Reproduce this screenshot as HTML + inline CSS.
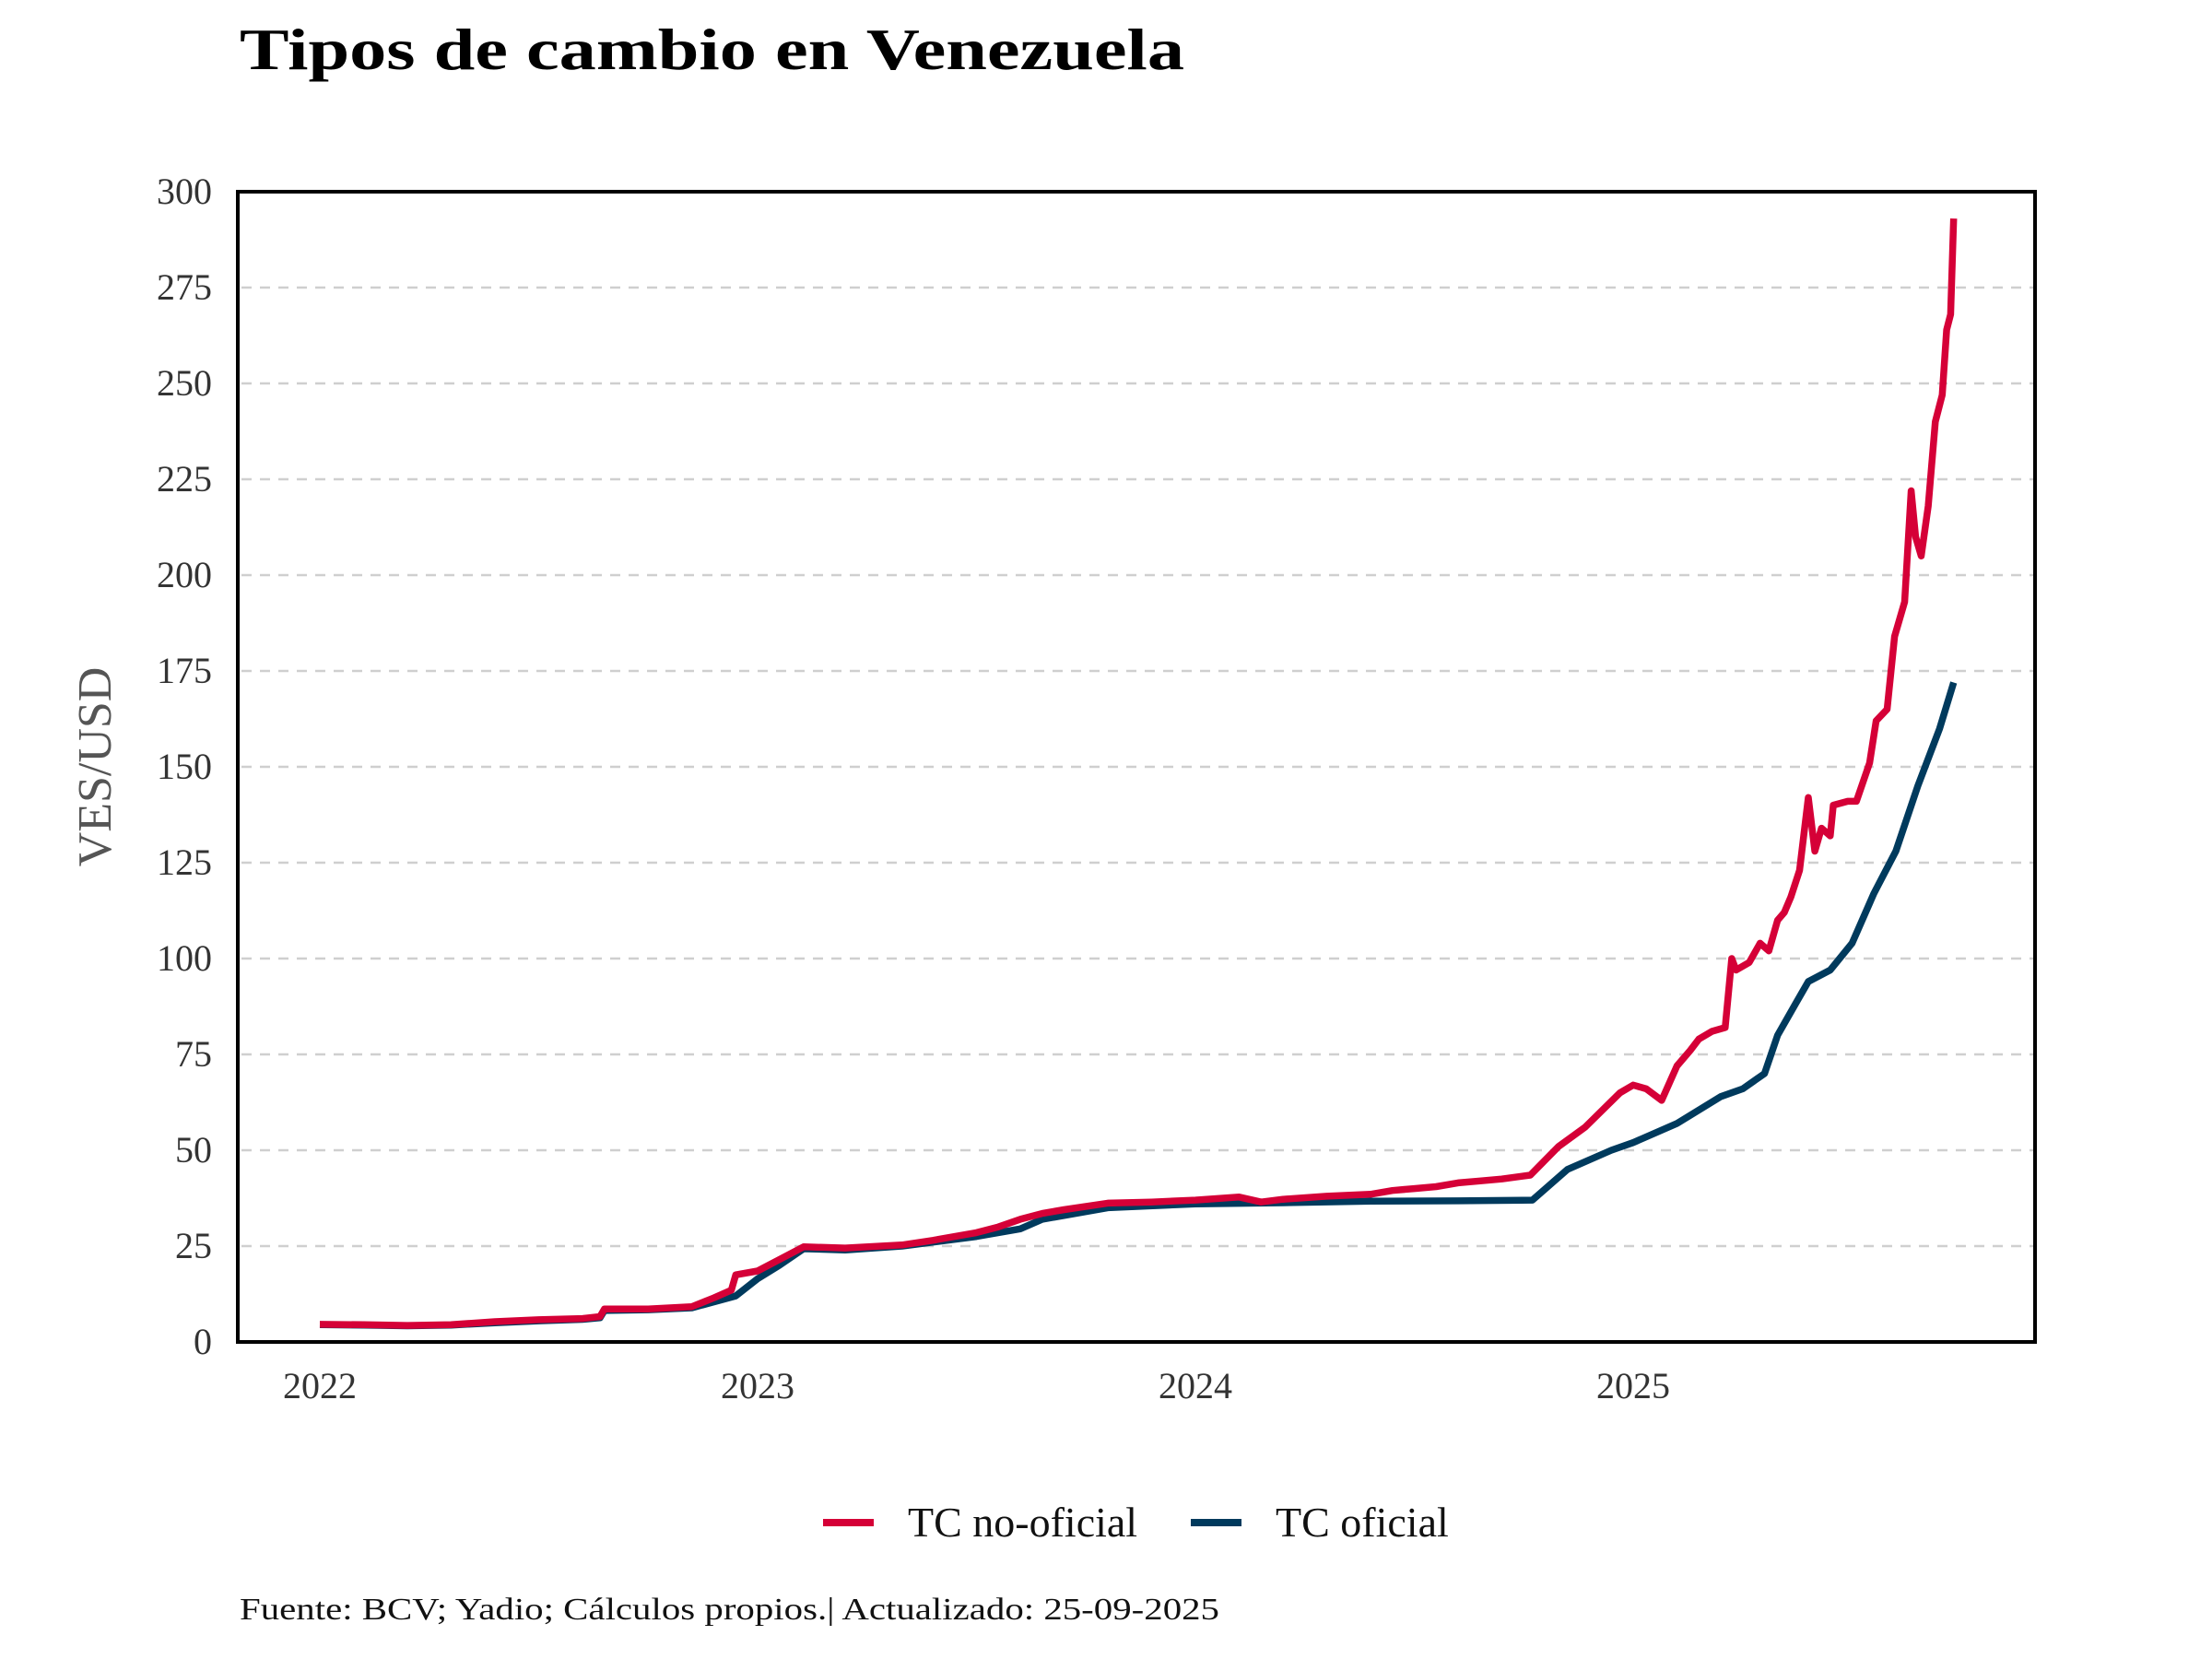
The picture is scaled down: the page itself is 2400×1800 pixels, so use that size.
<!DOCTYPE html>
<html><head><meta charset="utf-8"><style>
html,body{margin:0;padding:0;background:#fff;}
svg{display:block;}
text{font-family:"Liberation Serif",serif;}
</style></head><body>
<svg id="chart" width="2400" height="1800" viewBox="0 0 2400 1800">
<text x="260" y="75" font-size="64" font-weight="bold" fill="#000" textLength="1025" lengthAdjust="spacingAndGlyphs">Tipos de cambio en Venezuela</text>
<g id="grid"></g>
<g id="yticks"></g>
<g id="xticks"></g>
<g id="series"></g>
<rect x="258" y="208" width="1950" height="1248" fill="none" stroke="#000" stroke-width="4"/>
<text transform="translate(120,832) rotate(-90)" text-anchor="middle" font-size="52" fill="#555">VES/USD</text>
<g>
<line x1="893" y1="1652" x2="948" y2="1652" stroke="#d50037" stroke-width="8"/>
<text x="985" y="1667" font-size="46" fill="#111">TC no-oficial</text>
<line x1="1292" y1="1652" x2="1347" y2="1652" stroke="#003a5d" stroke-width="8"/>
<text x="1384" y="1667" font-size="46" fill="#111">TC oficial</text>
</g>
<text x="260" y="1757" font-size="34" fill="#111" textLength="1063" lengthAdjust="spacingAndGlyphs">Fuente: BCV; Yadio; Cálculos propios.| Actualizado: 25-09-2025</text>
</svg>
<script>
const yTicks = [0,25,50,75,100,125,150,175,200,225,250,275,300];
const xTickYears = [2022,2023,2024,2025];
const redDates = [2022.0,2022.1,2022.2,2022.3,2022.4,2022.5,2022.6,2022.64,2022.65,2022.75,2022.85,2022.9,2022.94,2022.95,2023.0,2023.05,2023.105,2023.2,2023.33,2023.4,2023.5,2023.55,2023.6,2023.65,2023.7,2023.8,2023.9,2024.0,2024.1,2024.15,2024.2,2024.3,2024.4,2024.45,2024.5,2024.55,2024.6,2024.65,2024.7,2024.765,2024.83,2024.89,2024.97,2025.0,2025.03,2025.065,2025.1,2025.13,2025.15,2025.18,2025.21,2025.225,2025.235,2025.265,2025.29,2025.31,2025.33,2025.345,2025.36,2025.38,2025.4,2025.415,2025.43,2025.45,2025.457,2025.49,2025.51,2025.54,2025.555,2025.58,2025.597,2025.62,2025.635,2025.645,2025.658,2025.674,2025.69,2025.706,2025.716,2025.725,2025.732];
const redValues = [4.6,4.5,4.3,4.5,5.3,5.8,6.1,6.6,8.6,8.6,9.2,11.5,13.5,17.5,18.5,21.5,24.8,24.5,25.3,26.5,28.5,30,32,33.5,34.5,36.2,36.5,37,37.8,36.5,37.2,38,38.5,39.5,40,40.5,41.5,42,42.5,43.5,51,56,65,67,66,63,72,76,79,81,82,100,97,99,104,102,110,112,116,123,142,128,134,132,140,141,141,151,162,165,184,193,222,210,205,218,240,247,264,268,293];
const blueDates = [2022.0,2022.1,2022.2,2022.3,2022.4,2022.5,2022.6,2022.64,2022.65,2022.75,2022.85,2022.95,2023.0,2023.05,2023.105,2023.2,2023.33,2023.5,2023.6,2023.65,2023.8,2024.0,2024.2,2024.4,2024.6,2024.77,2024.8,2024.85,2024.95,2025.0,2025.1,2025.2,2025.25,2025.3,2025.33,2025.37,2025.4,2025.45,2025.5,2025.55,2025.6,2025.65,2025.7,2025.732];
const blueValues = [4.5,4.4,4.2,4.4,5.0,5.5,5.9,6.3,8.2,8.4,8.9,12,16.5,20,24.3,24,25,27.5,29.5,32,35,36,36.3,36.7,36.8,37,40,45,50,52,57,64,66,70,80,88,94,97,104,117,128,145,160,172];
const NS = 'http://www.w3.org/2000/svg';
const X0 = 347, PX_PER_YEAR = 475, Y0 = 1456, PX_PER_UNIT = 1248/300;
function xScale(d){ return X0 + (d - 2022) * PX_PER_YEAR; }
function yScale(v){ return Y0 - v * PX_PER_UNIT; }
const grid = document.getElementById('grid');
const yt = document.getElementById('yticks');
yTicks.forEach(t => {
  if (t > 0 && t < 300) {
    const l = document.createElementNS(NS,'line');
    l.setAttribute('x1',262); l.setAttribute('x2',2206);
    l.setAttribute('y1',yScale(t)); l.setAttribute('y2',yScale(t));
    l.setAttribute('stroke','#cfcfcf'); l.setAttribute('stroke-width','2.5');
    l.setAttribute('stroke-dasharray','11 9');
    
    
    grid.appendChild(l);
  }
  const tx = document.createElementNS(NS,'text');
  tx.setAttribute('x',230); tx.setAttribute('y',yScale(t)+13);
  tx.setAttribute('text-anchor','end'); tx.setAttribute('font-size','40'); tx.setAttribute('fill','#333');
  tx.textContent = t;
  
  
  yt.appendChild(tx);
});
const xt = document.getElementById('xticks');
xTickYears.forEach(y => {
  const tx = document.createElementNS(NS,'text');
  tx.setAttribute('x',xScale(y)); tx.setAttribute('y',1517);
  tx.setAttribute('text-anchor','middle'); tx.setAttribute('font-size','40'); tx.setAttribute('fill','#333');
  tx.textContent = y;
  
  
  xt.appendChild(tx);
});
function pathFor(dates, vals){
  return dates.map((d,i)=>(i?'L':'M')+xScale(d).toFixed(1)+','+yScale(vals[i]).toFixed(1)).join(' ');
}
const series = document.getElementById('series');
const pb = document.createElementNS(NS,'path');
pb.setAttribute('d', pathFor(blueDates, blueValues));
pb.setAttribute('fill','none'); pb.setAttribute('stroke','#003a5d'); pb.setAttribute('stroke-width','7.5'); pb.setAttribute('stroke-linejoin','round');


series.appendChild(pb);
const pr = document.createElementNS(NS,'path');
pr.setAttribute('d', pathFor(redDates, redValues));
pr.setAttribute('fill','none'); pr.setAttribute('stroke','#d50037'); pr.setAttribute('stroke-width','7.5'); pr.setAttribute('stroke-linejoin','round');


series.appendChild(pr);
</script>
</body></html>
